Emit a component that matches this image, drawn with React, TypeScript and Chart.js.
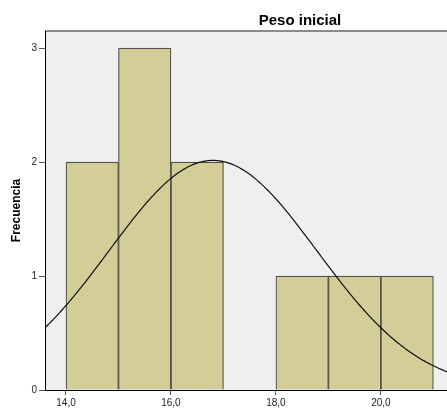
import React, { useEffect, useRef } from "react";
import { Chart, registerables } from "chart.js";

Chart.register(...registerables);

// ---- Data ----
const chartTitle = "Peso inicial";
const yAxisTitle = "Frecuencia";
const binStarts = [14, 15, 16, 18, 19, 20];
const frequencies = [2, 3, 2, 1, 1, 1];
const binWidth = 1;
const xTickValues = [14, 16, 18, 20];
const yTickValues = [0, 1, 2, 3];
const xMin = 13.6;
const xMax = 21.26;
const yMax = 3.15;
// Normal curve parameters (fitted curve shown by the histogram)
const curveMean = 16.8;
const curveStdDev = 1.98;
const sampleSize = 10;
const curveStep = 0.04;

const FONT = "Arial, 'Liberation Sans', sans-serif";

function normalCurve() {
  const pts: { x: number; y: number }[] = [];
  const k = (sampleSize * binWidth) / (curveStdDev * Math.sqrt(2 * Math.PI));
  const n = Math.round((xMax - xMin) / curveStep);
  for (let i = 0; i <= n; i++) {
    const x = xMin + i * curveStep;
    const z = (x - curveMean) / curveStdDev;
    pts.push({ x, y: k * Math.exp(-0.5 * z * z) });
  }
  return pts;
}

const bgPlugin = {
  id: "spssBackground",
  beforeDraw(chart: any) {
    const { ctx, chartArea } = chart;
    ctx.save();
    ctx.fillStyle = "#efefef";
    ctx.fillRect(chartArea.left, chartArea.top, chartArea.right - chartArea.left, chartArea.bottom - chartArea.top);
    ctx.strokeStyle = "#8a8a8a";
    ctx.lineWidth = 2;
    ctx.beginPath();
    ctx.moveTo(chartArea.left, chartArea.top);
    ctx.lineTo(chartArea.right, chartArea.top);
    ctx.stroke();
    ctx.restore();
  },
  afterDraw(chart: any) {
    const { ctx } = chart;
    ctx.save();
    ctx.fillStyle = "#000";
    ctx.font = `bold 15px ${FONT}`;
    ctx.textAlign = "center";
    ctx.textBaseline = "alphabetic";
    ctx.fillText(chartTitle, 300, 25);
    ctx.restore();
  },
};

export default function App() {
  const canvasRef = useRef<HTMLCanvasElement | null>(null);

  useEffect(() => {
    if (!canvasRef.current) return;
    const chart = new Chart(canvasRef.current, {
      type: "bar",
      data: {
        datasets: [
          {
            type: "line",
            data: normalCurve(),
            borderColor: "#111",
            borderWidth: 1.2,
            pointRadius: 0,
            fill: false,
            tension: 0,
            order: 0,
          } as any,
          {
            type: "bar",
            data: binStarts.map((s, i) => ({ x: s + binWidth / 2, y: frequencies[i] })),
            backgroundColor: "#d3ce97",
            borderColor: "#505048",
            borderWidth: 1.2,
            barPercentage: 1,
            categoryPercentage: 1,
            order: 1,
          } as any,
        ],
      },
      options: {
        animation: false,
        responsive: false,
        devicePixelRatio: 1,
        layout: { padding: { top: 31, right: 0, bottom: 0, left: 0 } },
        plugins: {
          legend: { display: false },
          tooltip: { enabled: false },
          title: { display: false },
        },
        scales: {
          x: {
            type: "linear",
            min: xMin,
            max: xMax,
            offset: false,
            afterBuildTicks: (s: any) => {
              s.ticks = xTickValues.map((v) => ({ value: v }));
            },
            afterFit: (s: any) => {
              s.height = 18;
            },
            ticks: {
              autoSkip: false,
              maxRotation: 0,
              padding: 2,
              color: "#222",
              font: { family: FONT, size: 10 },
              callback: (v: any) => Number(v).toFixed(1).replace(".", ","),
            },
            grid: {
              offset: false,
              drawOnChartArea: false,
              drawTicks: true,
              tickLength: 5,
              color: "#555",
            },
            border: { display: true, color: "#000", width: 1 },
          },
          y: {
            type: "linear",
            min: 0,
            max: yMax,
            afterBuildTicks: (s: any) => {
              s.ticks = yTickValues.map((v) => ({ value: v }));
            },
            afterFit: (s: any) => {
              s.width = 45;
            },
            ticks: {
              padding: 2,
              color: "#222",
              font: { family: FONT, size: 10 },
              callback: (v: any) => String(v),
            },
            grid: {
              drawOnChartArea: false,
              drawTicks: true,
              tickLength: 6,
              color: "#555",
            },
            border: { display: true, color: "#000", width: 1 },
            title: {
              display: true,
              text: yAxisTitle,
              color: "#000",
              font: { family: FONT, size: 12, weight: "bold" },
              padding: { top: 9, bottom: 0 },
            },
          },
        },
      } as any,
      plugins: [bgPlugin],
    });
    return () => chart.destroy();
  }, []);

  return (
    <div style={{ position: "fixed", left: 0, top: 0, width: 447, height: 408, background: "#fff" }}>
      <canvas ref={canvasRef} width={447} height={408} style={{ display: "block", width: 447, height: 408 }} />
    </div>
  );
}
